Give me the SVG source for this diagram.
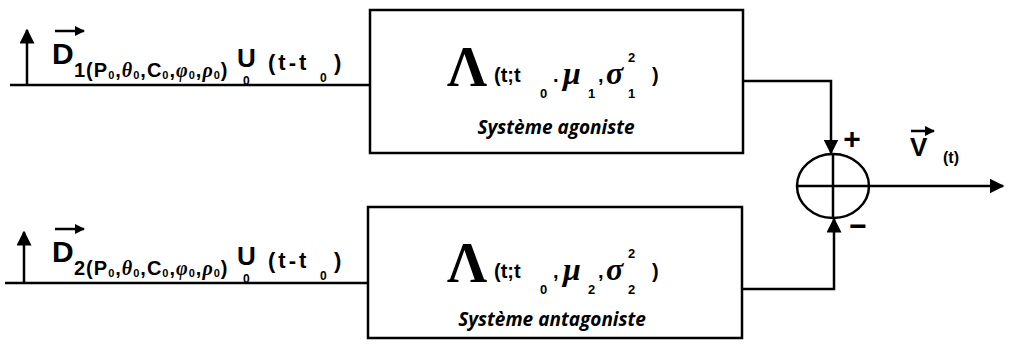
<svg xmlns="http://www.w3.org/2000/svg" width="1009" height="353" viewBox="0 0 1009 353">
<defs>
<marker id="ah" viewBox="0 0 10 10" refX="9" refY="5" markerWidth="6" markerHeight="6" markerUnits="strokeWidth" orient="auto">
<path d="M0,0 L10,5 L0,10 z" fill="#000"/>
</marker>
<marker id="ahs" viewBox="0 0 10 10" refX="9" refY="5" markerWidth="4" markerHeight="4" markerUnits="strokeWidth" orient="auto">
<path d="M0,0 L10,5 L0,10 z" fill="#000"/>
</marker>
<style>
.ln{fill:none;stroke:#000;stroke-width:2.5}
.box{fill:#fff;stroke:#000;stroke-width:2.5}
.sans{font-family:"Liberation Sans",Arial,sans-serif;font-weight:bold;fill:#000}
.lam{font-family:"Liberation Serif","Times New Roman",serif;font-weight:bold;fill:#000}
.sub{font-family:"Open Sans","Liberation Sans",sans-serif;font-weight:bold;font-style:italic;fill:#000;font-size:19px}
.gr{font-family:"Liberation Serif",serif;font-weight:bold;font-style:italic;fill:#000}
.arg{font-size:20px;letter-spacing:1px}
.s0{font-size:11px}
</style>
</defs>
<g id="connectors">
<path class="ln" d="M10,85 H370"/>
<path class="ln" d="M27,85 V30" marker-end="url(#ah)"/>
<path class="ln" d="M5,283 H368"/>
<path class="ln" d="M24,283 V232" marker-end="url(#ah)"/>
<path class="ln" d="M743,81 H831 V153" marker-end="url(#ah)"/>
<path class="ln" d="M742,289 H834 V219" marker-end="url(#ah)"/>
<path class="ln" d="M869,186 H1003" marker-end="url(#ah)"/>
</g>
<g id="input1">
<path class="ln" d="M55,31 H84" marker-end="url(#ahs)"/>
<text class="sans" x="52" y="64" font-size="30">D</text>
<text class="sans arg" x="74" y="77">1(P<tspan class="s0" dy="2">0</tspan><tspan dy="-2">,</tspan><tspan class="gr">θ</tspan><tspan class="s0" dy="2">0</tspan><tspan dy="-2">,C</tspan><tspan class="s0" dy="2">0</tspan><tspan dy="-2">,</tspan><tspan class="gr">φ</tspan><tspan class="s0" dy="2">0</tspan><tspan dy="-2">,</tspan><tspan class="gr">ρ</tspan><tspan class="s0" dy="2">0</tspan><tspan dy="-2">)</tspan></text>
<text class="sans" x="237" y="67" font-size="26">U</text>
<text class="sans" x="243" y="85" font-size="12">0</text>
<text class="sans" x="268" y="70" font-size="22" letter-spacing="3">(t-t</text>
<text class="sans" x="320" y="82" font-size="12">0</text>
<text class="sans" x="334" y="70" font-size="22">)</text>
</g>
<g id="input2">
<path class="ln" d="M55,229 H84" marker-end="url(#ahs)"/>
<text class="sans" x="52" y="262" font-size="30">D</text>
<text class="sans arg" x="74" y="275">2(P<tspan class="s0" dy="2">0</tspan><tspan dy="-2">,</tspan><tspan class="gr">θ</tspan><tspan class="s0" dy="2">0</tspan><tspan dy="-2">,C</tspan><tspan class="s0" dy="2">0</tspan><tspan dy="-2">,</tspan><tspan class="gr">φ</tspan><tspan class="s0" dy="2">0</tspan><tspan dy="-2">,</tspan><tspan class="gr">ρ</tspan><tspan class="s0" dy="2">0</tspan><tspan dy="-2">)</tspan></text>
<text class="sans" x="237" y="265" font-size="26">U</text>
<text class="sans" x="243" y="283" font-size="12">0</text>
<text class="sans" x="268" y="268" font-size="22" letter-spacing="3">(t-t</text>
<text class="sans" x="320" y="280" font-size="12">0</text>
<text class="sans" x="334" y="268" font-size="22">)</text>
</g>
<g id="agoniste">
<rect class="box" x="370" y="10" width="373" height="143"/>
<text class="lam" x="447" y="86" font-size="56">Λ</text>
<text class="sans" x="494" y="82" font-size="20">(t;t</text>
<text class="sans" x="540" y="98" font-size="13">0</text>
<text class="sans" x="553" y="82" font-size="20">.</text>
<text class="gr" x="563" y="84" font-size="32">μ</text>
<text class="sans" x="588" y="98" font-size="13">1</text>
<text class="sans" x="598" y="82" font-size="20">,</text>
<text class="gr" x="606" y="84" font-size="32">σ</text>
<text class="sans" x="628" y="62" font-size="13">2</text>
<text class="sans" x="628" y="98" font-size="13">1</text>
<text class="sans" x="652" y="82" font-size="20">)</text>
<text class="sub" x="556" y="134" text-anchor="middle">Système agoniste</text>
</g>
<g id="antagoniste">
<rect class="box" x="368" y="207" width="374" height="131"/>
<text class="lam" x="447" y="282" font-size="56">Λ</text>
<text class="sans" x="494" y="278" font-size="20">(t;t</text>
<text class="sans" x="540" y="294" font-size="13">0</text>
<text class="sans" x="553" y="278" font-size="20">,</text>
<text class="gr" x="563" y="280" font-size="32">μ</text>
<text class="sans" x="588" y="294" font-size="13">2</text>
<text class="sans" x="598" y="278" font-size="20">,</text>
<text class="gr" x="606" y="280" font-size="32">σ</text>
<text class="sans" x="628" y="258" font-size="13">2</text>
<text class="sans" x="628" y="294" font-size="13">2</text>
<text class="sans" x="652" y="278" font-size="20">)</text>
<text class="sub" x="552" y="326" text-anchor="middle">Système antagoniste</text>
</g>
<g id="sum">
<ellipse cx="833" cy="186" rx="36" ry="32" fill="none" stroke="#000" stroke-width="2.5"/>
<path class="ln" d="M797,186 H869 M833,154 V218"/>
<text class="sans" x="852" y="149" font-size="30" text-anchor="middle">+</text>
<text class="sans" x="858" y="236" font-size="30" text-anchor="middle">−</text>
</g>
<g id="output">
<path class="ln" d="M911,131 H934" marker-end="url(#ahs)"/>
<text class="sans" x="910" y="156" font-size="26">V</text>
<text class="sans" x="943" y="163" font-size="16">(t)</text>
</g>
</svg>
